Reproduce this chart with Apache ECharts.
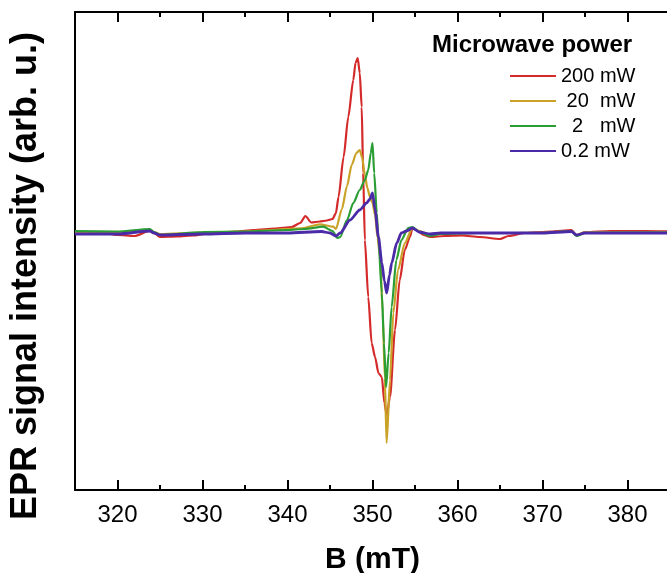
<!DOCTYPE html>
<html>
<head>
<meta charset="utf-8">
<script src="https://cdn.jsdelivr.net/npm/echarts@6/dist/echarts.min.js"></script>
<style>
html,body{margin:0;padding:0;background:#fff;}
#chart{width:667px;height:573px;}
</style>
</head>
<body>
<div id="chart"></div>
<script>
// ---- data (B in mT, intensity in arb. u.) ----
var seriesNames = ['200 mW', ' 20  mW', '  2   mW', '0.2 mW'];
var majorTicks = [320, 330, 340, 350, 360, 370, 380];
var minorTicks = [325, 335, 345, 355, 365, 375];

var redB = [315, 318, 320, 322, 323.8, 324.3, 325, 327, 329, 331, 334, 336, 338.5, 340.5, 341.5, 342.1, 342.8, 343.8, 344.6, 345.3, 345.7, 346.0, 346.6, 347.15, 347.74, 348.0, 348.26, 348.5, 348.73, 348.9, 349.1, 349.5, 349.9, 350.3, 350.7, 351.1, 351.4, 351.67, 352.06, 352.65, 353.2, 353.8, 354.4, 354.7, 355.2, 356, 356.8, 358.5, 360.5, 362.6, 365, 366, 368, 371, 373.4, 374, 375, 378, 382, 385];
var redI = [1, 0.5, -2, -3, 2, 0, -4, -3.5, -2.5, 0, 1.5, 3, 4.5, 6, 10, 17, 10.5, 11.5, 12.5, 14, 20, 36, 76, 116, 153, 170, 175, 160, 126, 60, -7, -64, -110, -124, -140, -144, -170, -182, -164, -97, -47, -17, -4, 5, 3, -2, -4, -3, -2.5, -4, -6, -3, 0, 1.5, 3, -2.5, 1, 2, 2, 1.5];

var goldB = [315, 320, 323.8, 324.3, 325, 330, 335, 338, 341.7, 343.8, 345.4, 345.7, 346.4, 347.0, 347.55, 348.1, 348.5, 348.8, 349.1, 349.4, 349.7, 350.0, 350.3, 350.6, 350.9, 351.2, 351.45, 351.66, 352.06, 352.45, 353.0, 353.8, 354.7, 355.5, 356.8, 358, 362, 366, 370, 373.4, 374, 375, 380, 385];
var goldI = [1, 1, 3, 1, -1, 0.5, 1.5, 3, 4.7, 8.7, 6.3, 4, 24, 47, 68, 80, 83, 75, 58, 45, 36, 30, 18, -5, -25, -80, -145, -210, -147, -80, -37, -10, 5, 2, -2, -1, 0, 0, 0.5, 2, -2, 1, 1, 1];

var greenB = [315, 320, 323.8, 324.3, 325, 330, 335, 340, 342, 344.2, 345.3, 345.86, 346.2, 347.0, 347.74, 348.5, 349.1, 349.5, 349.8, 350.0, 350.2, 350.5, 350.7, 351.1, 351.35, 351.6, 351.9, 352.25, 352.8, 353.4, 354.2, 354.7, 355.5, 356.8, 358, 362, 366, 370, 373.4, 374, 375, 380, 385];
var greenI = [2, 1.5, 4, 1, -2, 1, 1.5, 3, 4, 6.3, 2, -5, -4, 13, 30, 43, 53, 63, 80, 90, 60, 20, -7, -60, -110, -154, -120, -74, -27, -7, 5, 6, 1, -3, -1, 0, 0, 0, 2, -3, 0, 0.5, 0.5];

var purpleB = [315, 320, 323.8, 324.3, 325, 330, 335, 340, 344, 345, 345.7, 346.2, 347.35, 348.5, 349.3, 349.7, 350.0, 350.3, 350.7, 351.1, 351.4, 351.67, 352.0, 352.26, 352.85, 353.4, 354.0, 354.7, 355.5, 356.8, 358, 362, 366, 370, 373.4, 374, 375, 380, 385];
var purpleI = [-1, -1, 2, 0, -2, -1, 0, 0, 1.5, 0, -3, 0, 13, 23, 30, 34, 40, 23, -4, -30, -48, -60, -42, -30, -10, 0, 2, 5, 1, -1, 0, 0, 0, 0, 1.5, -2, 0, 0, 0];

var colors = ['#d42a2a', '#c9a227', '#2a9e34', '#4a2aa6'];
var widths = [2.2, 2.2, 2.2, 2.8];

function zip(xs, ys) { return xs.map(function (x, i) { return [x, ys[i]]; }); }
var allB = [redB, goldB, greenB, purpleB];
var allI = [redI, goldI, greenI, purpleI];

var FONT = '"Liberation Sans", Arial, Helvetica, sans-serif';
var axisLineStyle = { color: '#000', width: 2 };

function xAx(pos, ticks, len, showLine, showLabel, withName) {
  var a = {
    type: 'value', position: pos, min: 315, max: 385,
    axisLine: { show: showLine, onZero: false, lineStyle: axisLineStyle },
    axisTick: { show: true, inside: true, length: len, customValues: ticks, lineStyle: { color: '#000', width: 2 } },
    axisLabel: { show: showLabel, customValues: ticks, fontSize: 24, color: '#000', margin: 13, fontFamily: FONT },
    splitLine: { show: false }
  };
  if (withName) {
    a.name = 'B (mT)';
    a.nameLocation = 'middle';
    a.nameGap = 55;
    a.nameTextStyle = { fontSize: 30, fontWeight: 'bold', color: '#000', fontFamily: FONT };
  }
  return a;
}

var chart = echarts.init(document.getElementById('chart'), null, { renderer: 'canvas' });
chart.setOption({
  backgroundColor: '#fff',
  animation: false,
  color: colors,
  title: {
    text: 'Microwave power', left: 432, top: 33, padding: 0,
    textStyle: { fontSize: 24, fontWeight: 'bold', color: '#000', fontFamily: FONT }
  },
  legend: {
    data: seriesNames, orient: 'vertical', left: 510, top: 66,
    icon: 'rect', itemWidth: 46, itemHeight: 2, itemGap: 5, padding: 0,
    textStyle: { fontSize: 20, color: '#000', lineHeight: 20, fontFamily: FONT }
  },
  grid: { left: 75, right: -3, top: 12, bottom: 83, containLabel: false, outerBoundsMode: 'none' },
  xAxis: [
    xAx('bottom', majorTicks, 10, true, true, true),
    xAx('top', majorTicks, 10, true, false, false),
    xAx('bottom', minorTicks, 5, false, false, false),
    xAx('top', minorTicks, 5, false, false, false)
  ],
  yAxis: {
    type: 'value', min: -257, max: 221,
    axisLine: { show: true, onZero: false, lineStyle: axisLineStyle },
    axisTick: { show: false }, axisLabel: { show: false }, splitLine: { show: false },
    name: 'EPR signal intensity (arb. u.)', nameLocation: 'middle', nameGap: 31,
    nameTextStyle: { fontSize: 36, fontWeight: 'bold', color: '#000', fontFamily: FONT, padding: [0, 50, 0, 0] }
  },
  series: seriesNames.map(function (n, k) {
    return {
      name: n, type: 'line', xAxisIndex: 0, yAxisIndex: 0,
      data: zip(allB[k], allI[k]),
      showSymbol: false, symbol: 'none', smooth: 0.25, smoothMonotone: 'x',
      lineStyle: { color: colors[k], width: widths[k] },
      itemStyle: { color: colors[k] }
    };
  })
});
</script>
</body>
</html>
